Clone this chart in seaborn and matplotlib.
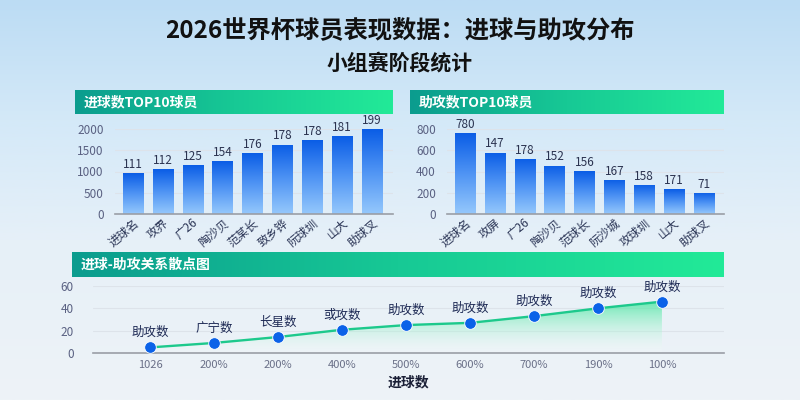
import matplotlib.pyplot as plt
import seaborn as sns
import pandas as pd
import numpy as np
from matplotlib.colors import LinearSegmentedColormap, to_rgb

sns.set_theme(style='white')
plt.rcParams['font.family'] = ['Noto Sans CJK SC', 'DejaVu Sans']
plt.rcParams['axes.unicode_minus'] = False

# Datos
goal_players = ['进球名', '攻界', '广26', '陶沙贝', '范某长', '致乡铧', '阮球圳', '山大', '助球叉']
goal_values = [955, 1055, 1150, 1245, 1425, 1635, 1735, 1830, 1990]
goal_labels = ['111', '112', '125', '154', '176', '178', '178', '181', '199']

assist_players = ['进球名', '攻屏', '广26', '陶沙贝', '范球长', '阮沙城', '攻球圳', '山大', '助球叉']
assist_values = [760, 578, 519, 456, 403, 322, 275, 235, 198]
assist_labels = ['780', '147', '178', '152', '156', '167', '158', '171', '71']

rel_ticks = ['1026', '200%', '200%', '400%', '500%', '600%', '700%', '190%', '100%']
rel_assists = [5, 9, 14.3, 20.8, 25, 27, 33, 40, 46]
rel_names = ['助攻数', '广宁数', '长星数', '或攻数', '助攻数', '助攻数', '助攻数', '助攻数', '助攻数']

W, H = 800, 400
fig = plt.figure(figsize=(8, 4), dpi=100)

# Fondo degradado (coordenadas en píxeles)
bg = fig.add_axes([0, 0, 1, 1])
bg.set_zorder(-10)
bg.set_xlim(0, W)
bg.set_ylim(H, 0)
bg.axis('off')
stops = [(0, '#bcdcf4'), (0.3, '#d4e9f8'), (0.6, '#e6f0f8'), (1, '#eef3f7')]
bg_cmap = LinearSegmentedColormap.from_list('bg', [(p, c) for p, c in stops])
grad_v = np.linspace(0, 1, 256).reshape(-1, 1)
bg.imshow(grad_v, cmap=bg_cmap, extent=[0, W, H, 0], aspect='auto')

banner_cmap = LinearSegmentedColormap.from_list('banner', ['#0b9c8e', '#17c995', '#22ea98'])
grad_h = np.linspace(0, 1, 256).reshape(1, -1)


def banner(x0, x1, y0, y1, text):
    bg.imshow(grad_h, cmap=banner_cmap, extent=[x0, x1, y1, y0], aspect='auto', zorder=2)
    bg.text(x0 + 9, (y0 + y1) / 2, text, color='white', fontsize=10, fontweight='bold',
            va='center', ha='left', zorder=3)


banner(75, 393, 90, 114, '进球数TOP10球员')
banner(410, 724, 90, 114, '助攻数TOP10球员')
banner(72, 724, 252, 277, '进球-助攻关系散点图')
bg.set_xlim(0, W)
bg.set_ylim(H, 0)

fig.text(0.5, 1 - 31 / H, '2026世界杯球员表现数据：进球与助攻分布', ha='center', va='center',
         fontsize=17.5, fontweight='bold', color='#111111')
fig.text(0.5, 1 - 63 / H, '小组赛阶段统计', ha='center', va='center',
         fontsize=15, fontweight='bold', color='#111111')

bar_cmap = LinearSegmentedColormap.from_list('bar', ['#95c8fc', '#4f94f4', '#0a5de6'])


def px_axes(x0, x1, y_top, y_bot):
    return fig.add_axes([x0 / W, 1 - y_bot / H, (x1 - x0) / W, (y_bot - y_top) / H])


def bar_panel(ax, players, values, labels, ymax, step, xlim):
    df = pd.DataFrame({'jugador': players, 'valor': values})
    sns.barplot(data=df, x='jugador', y='valor', ax=ax, width=0.68, color='#2f7cf0')
    ax.set_facecolor('none')
    for p, lab in zip(ax.patches, labels):
        x, w, h = p.get_x(), p.get_width(), p.get_height()
        im = ax.imshow(grad_v[::-1], cmap=bar_cmap, extent=[x, x + w, 0, h],
                       aspect='auto', zorder=p.get_zorder())
        im.set_clip_path(p)
        p.set_facecolor('none')
        p.set_edgecolor('none')
        ax.text(x + w / 2, h + ymax * 0.025, lab, ha='center', va='bottom',
                fontsize=8.5, color='#2b3350', clip_on=False)
    ax.set_xlim(*xlim)
    ax.set_ylim(0, ymax)
    ax.set_yticks(np.arange(0, ymax + 1, step))
    ax.yaxis.grid(True, color='#dde3ea', linewidth=0.8)
    ax.set_axisbelow(True)
    sns.despine(ax=ax, left=True)
    ax.spines['bottom'].set_color('#9a9ea6')
    ax.spines['bottom'].set_linewidth(1.2)
    ax.set_xlabel('')
    ax.set_ylabel('')
    ax.tick_params(axis='y', length=0, labelsize=8.5, labelcolor='#5a6182', pad=8)
    ax.tick_params(axis='x', length=0, labelsize=8.5, labelcolor='#2b3556', pad=2)
    plt.setp(ax.get_xticklabels(), rotation=40, ha='right', rotation_mode='anchor')


ax1 = px_axes(115, 393, 129, 214)
bar_panel(ax1, goal_players, goal_values, goal_labels, 2000, 500, (-0.6, 8.7))

ax2 = px_axes(447, 724, 129, 214)
bar_panel(ax2, assist_players, assist_values, assist_labels, 800, 200, (-0.6, 8.67))

# Dispersión / línea
ax3 = px_axes(93, 724, 286, 353)
ax3.set_facecolor('none')
pos = np.arange(len(rel_ticks))
df_rel = pd.DataFrame({'pos': pos, 'asist': rel_assists})
fill = ax3.fill_between(pos, rel_assists, 0, facecolor='none', edgecolor='none')
g = np.zeros((256, 1, 4))
top, bot = np.array(to_rgb('#3fe59a')), np.array(to_rgb('#ffffff'))
t = np.linspace(0, 1, 256).reshape(-1, 1)
g[:, 0, :3] = top * (1 - t) + bot * t
g[:, 0, 3] = (0.75 * (1 - t) + 0.15 * t)[:, 0]
im = ax3.imshow(g, extent=[pos[0], pos[-1], 0, max(rel_assists)], aspect='auto', zorder=1)
im.set_clip_path(fill.get_paths()[0], transform=ax3.transData)
sns.lineplot(data=df_rel, x='pos', y='asist', ax=ax3, color='#1dc98c', linewidth=1.7, zorder=3)
sns.scatterplot(data=df_rel, x='pos', y='asist', ax=ax3, color='#0b62e8', s=70,
                edgecolor='white', linewidth=0.6, zorder=4)
for xi, yi, name in zip(pos, rel_assists, rel_names):
    ax3.annotate(name, (xi, yi), xytext=(0, 6), textcoords='offset points',
                 ha='center', va='bottom', fontsize=9, color='#1e2a55', annotation_clip=False)
ax3.set_xlim(-0.89, 8.97)
ax3.set_ylim(0, 60)
ax3.set_yticks([0, 20, 40, 60])
ax3.set_xticks(pos)
ax3.set_xticklabels(rel_ticks)
ax3.yaxis.grid(True, color='#dde3ea', linewidth=0.8)
ax3.set_axisbelow(True)
sns.despine(ax=ax3, left=True)
ax3.spines['bottom'].set_color('#9a9ea6')
ax3.spines['bottom'].set_linewidth(1.2)
ax3.tick_params(axis='y', length=0, labelsize=8.5, labelcolor='#5a6182', pad=14)
ax3.tick_params(axis='x', length=0, labelsize=8, labelcolor='#6a7088', pad=5)
ax3.set_ylabel('')
ax3.set_xlabel('进球数', fontsize=10, fontweight='bold', color='#1a1f36', labelpad=4)

fig.savefig('out.png', dpi=100)
